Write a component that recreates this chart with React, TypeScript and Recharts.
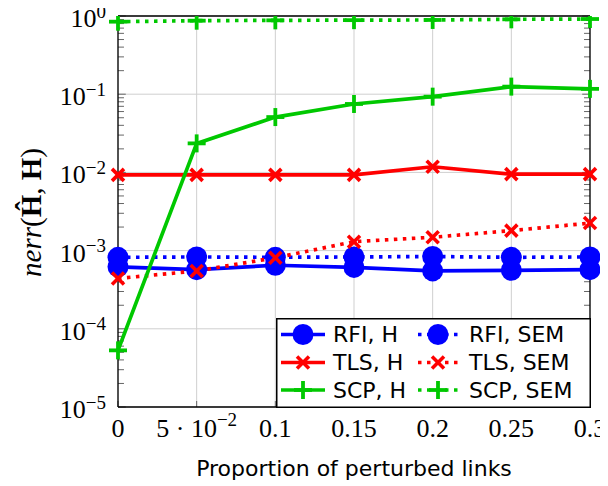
import React from 'react';
import { LineChart, Line, XAxis, YAxis, CartesianGrid, ReferenceLine, Legend } from 'recharts';

const xValues = [0, 0.05, 0.1, 0.15, 0.2, 0.25, 0.3];
const rfiH = [6.2e-4, 5.7e-4, 6.5e-4, 6.1e-4, 5.5e-4, 5.6e-4, 5.7e-4];
const rfiSEM = [8.2e-4, 8.3e-4, 8.2e-4, 8.3e-4, 8.4e-4, 8.2e-4, 8.3e-4];
const tlsH = [9.3e-3, 9.3e-3, 9.3e-3, 9.3e-3, 1.18e-2, 9.5e-3, 9.5e-3];
const tlsSEM = [4.4e-4, 5.5e-4, 8.1e-4, 1.3e-3, 1.48e-3, 1.8e-3, 2.25e-3];
const scpH = [5.3e-5, 2.35e-2, 5.1e-2, 7.5e-2, 9.3e-2, 0.125, 0.117];
const scpSEM = [0.846, 0.871, 0.88, 0.885, 0.89, 0.907, 0.915];

const xTicks = [0, 0.05, 0.1, 0.15, 0.2, 0.25, 0.3];
const yTicks = [1e-5, 1e-4, 1e-3, 1e-2, 1e-1, 1];
const decades = [1e-5, 1e-4, 1e-3, 1e-2, 1e-1];
const minorMultipliers = [2, 3, 4, 5, 6, 7, 8, 9];

const xLabel = 'Proportion of perturbed links';
const legendLabels = [
  ['RFI, H', 'RFI, SEM'],
  ['TLS, H', 'TLS, SEM'],
  ['SCP, H', 'SCP, SEM'],
];

const BLUE = '#0000ff';
const RED = '#ff0000';
const GREEN = '#00c800';
const DOTS = '3.5 5.5';
const LW = 3.7;

const data = xValues.map((x, i) => ({
  x,
  rfiH: rfiH[i],
  rfiSEM: rfiSEM[i],
  tlsH: tlsH[i],
  tlsSEM: tlsSEM[i],
  scpH: scpH[i],
  scpSEM: scpSEM[i],
}));

const minorTicks: number[] = [];
decades.forEach((d) => minorMultipliers.forEach((m) => minorTicks.push(d * m)));

const circleDot = (color: string) => (p: any) => {
  if (p.cx == null || p.cy == null) return <g key={p.index} />;
  return <circle key={p.index} cx={p.cx} cy={p.cy} r={10.5} fill={color} stroke="none" />;
};
const crossDot = (color: string) => (p: any) => {
  if (p.cx == null || p.cy == null) return <g key={p.index} />;
  const s = 6;
  return (
    <g key={p.index} stroke={color} strokeWidth={3.6} strokeDasharray="none">
      <line x1={p.cx - s} y1={p.cy - s} x2={p.cx + s} y2={p.cy + s} />
      <line x1={p.cx - s} y1={p.cy + s} x2={p.cx + s} y2={p.cy - s} />
    </g>
  );
};
const plusDot = (color: string) => (p: any) => {
  if (p.cx == null || p.cy == null) return <g key={p.index} />;
  const s = 9;
  return (
    <g key={p.index} stroke={color} strokeWidth={3.8} strokeDasharray="none">
      <line x1={p.cx - s} y1={p.cy} x2={p.cx + s} y2={p.cy} />
      <line x1={p.cx} y1={p.cy - s} x2={p.cx} y2={p.cy + s} />
    </g>
  );
};

const YTick = (props: any) => {
  const { x, y, payload } = props;
  const exp = Math.round(Math.log10(payload.value));
  const expStr = exp < 0 ? `\u2212${-exp}` : `${exp}`;
  return (
    <text x={x} y={y + 11} textAnchor="end" fontFamily="'Liberation Serif', serif" fontSize={26} fill="#000">
      10
      <tspan dy={-9.5} fontSize={19}>{expStr}</tspan>
    </text>
  );
};

const XTick = (props: any) => {
  const { x, y, payload } = props;
  const v = payload.value;
  const common = { x, y: y + 30, textAnchor: 'middle' as const, fontFamily: "'Liberation Serif', serif", fontSize: 26, fill: '#000' };
  if (Math.abs(v - 0.05) < 1e-9) {
    return (
      <text {...common}>
        5 · 10
        <tspan dy={-11} fontSize={19}>{'\u22122'}</tspan>
      </text>
    );
  }
  return <text {...common}>{String(v)}</text>;
};

const YLabel = (props: any) => {
  const vb = props.viewBox || { x: 0, y: 0, width: 0, height: 0 };
  const cx = vb.x + 41;
  const cy = vb.y + vb.height / 2 + 1;
  return (
    <text
      x={cx}
      y={cy}
      transform={`rotate(-90, ${cx}, ${cy})`}
      textAnchor="middle"
      fontFamily="'Liberation Serif', serif"
      fontSize={29}
      fill="#000"
    >
      <tspan fontStyle="italic">nerr</tspan>(<tspan fontWeight="bold">Ĥ</tspan>, <tspan fontWeight="bold">H</tspan>)
    </text>
  );
};

const XLabel = (props: any) => {
  const vb = props.viewBox || { x: 0, y: 0, width: 0, height: 0 };
  return (
    <text
      x={vb.x + vb.width / 2}
      y={vb.y + 69}
      textAnchor="middle"
      fontFamily="'DejaVu Sans', sans-serif"
      fontSize={22}
      fill="#000"
    >
      {xLabel}
    </text>
  );
};

const LegendBox = () => {
  const rows = [
    { color: BLUE, kind: 'circle' },
    { color: RED, kind: 'cross' },
    { color: GREEN, kind: 'plus' },
  ];
  const rowY = [16.5, 44.5, 72];
  const marker = (kind: string, color: string, cx: number, cy: number) => {
    if (kind === 'circle') return <circle cx={cx} cy={cy} r={10.5} fill={color} />;
    if (kind === 'cross')
      return (
        <g stroke={color} strokeWidth={3.6}>
          <line x1={cx - 6} y1={cy - 6} x2={cx + 6} y2={cy + 6} />
          <line x1={cx - 6} y1={cy + 6} x2={cx + 6} y2={cy - 6} />
        </g>
      );
    return (
      <g stroke={color} strokeWidth={3.8}>
        <line x1={cx - 9} y1={cy} x2={cx + 9} y2={cy} />
        <line x1={cx} y1={cy - 9} x2={cx} y2={cy + 9} />
      </g>
    );
  };
  return (
    <svg width={315} height={90} style={{ display: 'block' }}>
      <rect x={0.75} y={0.75} width={313.5} height={88.5} fill="#fff" stroke="#000" strokeWidth={1.5} />
      {rows.map((r, i) => (
        <g key={i}>
          <line x1={5} x2={49} y1={rowY[i]} y2={rowY[i]} stroke={r.color} strokeWidth={LW} />
          {marker(r.kind, r.color, 27, rowY[i])}
          <text x={57} y={rowY[i] + 7.5} fontFamily="'DejaVu Sans', sans-serif" fontSize={22} fill="#000">
            {legendLabels[i][0]}
          </text>
          <line x1={142} x2={184} y1={rowY[i]} y2={rowY[i]} stroke={r.color} strokeWidth={LW} strokeDasharray={DOTS} />
          {marker(r.kind, r.color, 162, rowY[i])}
          <text x={193} y={rowY[i] + 7.5} fontFamily="'DejaVu Sans', sans-serif" fontSize={22} fill="#000">
            {legendLabels[i][1]}
          </text>
        </g>
      ))}
    </svg>
  );
};

const TICK = '#666';
const xTickLen = 0.0038;
const yTickFactor = 1.193;

export default function App() {
  return (
    <div style={{ position: 'relative', width: 608, height: 486, margin: '-8px 0 0 -8px' }}>
      <LineChart width={608} height={486} data={data} margin={{ top: 16, right: 18, left: 0, bottom: 0 }}>
        <CartesianGrid stroke="#cfcfcf" strokeWidth={1} />
        <XAxis
          dataKey="x"
          type="number"
          domain={[0, 0.3]}
          ticks={xTicks}
          height={79}
          tickSize={0}
          tickMargin={0}
          tickLine={false}
          axisLine={{ stroke: '#000', strokeWidth: 1.3 }}
          tick={<XTick />}
          interval={0}
          label={{ content: (p: any) => <XLabel {...p} /> }}
        />
        <YAxis
          type="number"
          scale="log"
          domain={[1e-5, 1]}
          allowDataOverflow
          ticks={yTicks}
          width={118}
          tickSize={0}
          tickMargin={12}
          tickLine={false}
          axisLine={{ stroke: '#000', strokeWidth: 1.3 }}
          tick={<YTick />}
          interval={0}
          label={{ content: (p: any) => <YLabel {...p} /> }}
        />
        {minorTicks.map((v) => (
          <ReferenceLine key={`ml${v}`} segment={[{ x: 0, y: v }, { x: xTickLen, y: v }]} stroke={TICK} strokeWidth={1} />
        ))}
        {minorTicks.map((v) => (
          <ReferenceLine key={`mr${v}`} segment={[{ x: 0.3 - xTickLen, y: v }, { x: 0.3, y: v }]} stroke={TICK} strokeWidth={1} />
        ))}
        {yTicks.map((v) => (
          <ReferenceLine key={`Ml${v}`} segment={[{ x: 0, y: v }, { x: xTickLen * 1.3, y: v }]} stroke={TICK} strokeWidth={1} />
        ))}
        {yTicks.map((v) => (
          <ReferenceLine key={`Mr${v}`} segment={[{ x: 0.3 - xTickLen * 1.3, y: v }, { x: 0.3, y: v }]} stroke={TICK} strokeWidth={1} />
        ))}
        {xTicks.map((v) => (
          <ReferenceLine key={`xb${v}`} segment={[{ x: v, y: 1e-5 }, { x: v, y: 1e-5 * yTickFactor }]} stroke={TICK} strokeWidth={1} />
        ))}
        {xTicks.map((v) => (
          <ReferenceLine key={`xt${v}`} segment={[{ x: v, y: 1 / yTickFactor }, { x: v, y: 1 }]} stroke={TICK} strokeWidth={1} />
        ))}
        <ReferenceLine y={1} stroke="#000" strokeWidth={1.3} />
        <ReferenceLine x={0.3} stroke="#000" strokeWidth={1.3} />
        <Line type="linear" dataKey="rfiH" stroke={BLUE} strokeWidth={LW} dot={circleDot(BLUE)} activeDot={false} isAnimationActive={false} legendType="none" />
        <Line type="linear" dataKey="rfiSEM" stroke={BLUE} strokeWidth={LW} strokeDasharray={DOTS} dot={circleDot(BLUE)} activeDot={false} isAnimationActive={false} legendType="none" />
        <Line type="linear" dataKey="tlsH" stroke={RED} strokeWidth={LW} dot={crossDot(RED)} activeDot={false} isAnimationActive={false} legendType="none" />
        <Line type="linear" dataKey="tlsSEM" stroke={RED} strokeWidth={LW} strokeDasharray={DOTS} dot={crossDot(RED)} activeDot={false} isAnimationActive={false} legendType="none" />
        <Line type="linear" dataKey="scpH" stroke={GREEN} strokeWidth={LW} dot={plusDot(GREEN)} activeDot={false} isAnimationActive={false} legendType="none" />
        <Line type="linear" dataKey="scpSEM" stroke={GREEN} strokeWidth={LW} strokeDasharray={DOTS} dot={plusDot(GREEN)} activeDot={false} isAnimationActive={false} legendType="none" />
        <Legend
          layout="vertical"
          align="center"
          verticalAlign="middle"
          content={() => <LegendBox />}
          wrapperStyle={{ position: 'absolute', left: 276, top: 318, width: 315, height: 90 }}
        />
      </LineChart>
    </div>
  );
}
